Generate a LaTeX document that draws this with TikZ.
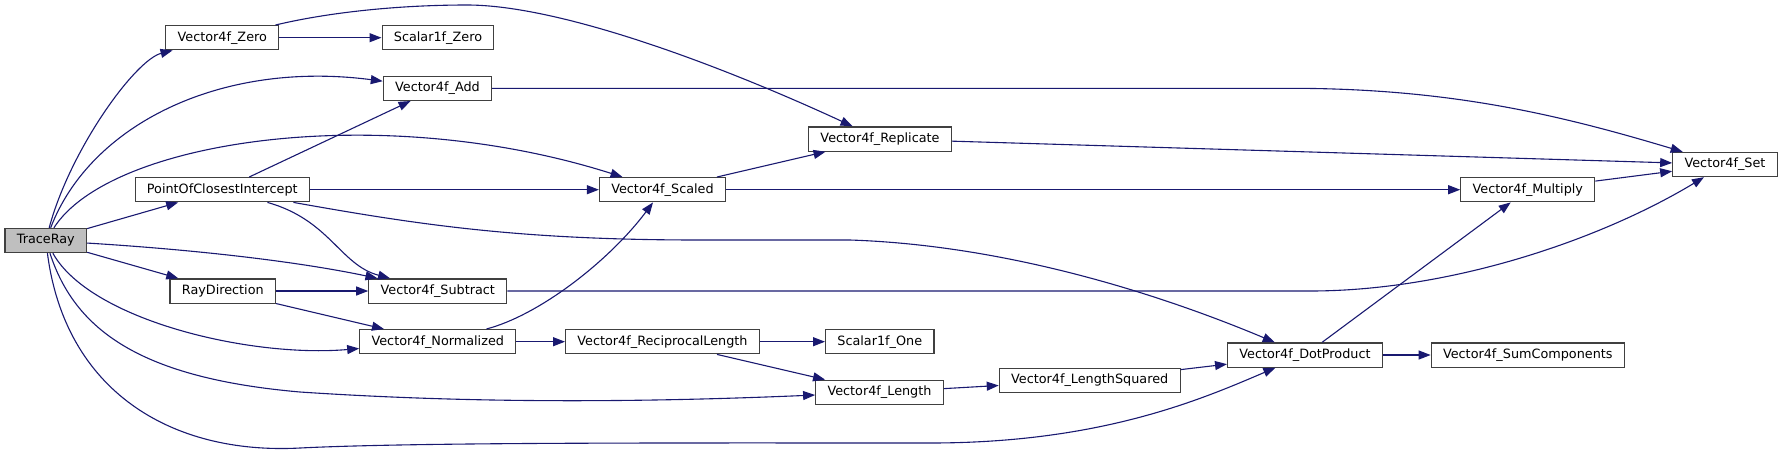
\documentclass[tikz,border=0pt]{standalone}
\usepackage{fontspec}
\setmainfont{DejaVu Sans}
\usetikzlibrary{arrows.meta}
\definecolor{edgeblue}{HTML}{191970}
\definecolor{boxgray}{HTML}{BFBFBF}
\definecolor{boxline}{HTML}{404040}

\begin{document}
\begin{tikzpicture}[x=1pt,y=-1pt,
  fn/.style={draw=boxline,line width=1.2pt,fill=white,inner xsep=11.8pt,inner ysep=0pt,minimum height=24.2pt,font=\fontsize{12.8}{14}\selectfont},
  call/.style={draw=edgeblue,line width=1.1pt,-{Triangle[length=12pt,width=9pt]}}]
\useasboundingbox (0,0) rectangle (1783,456);
\node[fn,fill=boxgray] (trace) at (45.8,240.5) {TraceRay};
\node[fn] (zero) at (222.3,37.7) {Vector4f\_Zero};
\node[fn] (szero) at (438,37.7) {Scalar1f\_Zero};
\node[fn] (add) at (437.5,88.3) {Vector4f\_Add};
\node[fn] (poci) at (222.3,189.7) {PointOfClosestIntercept};
\node[fn] (raydir) at (222.8,291) {RayDirection};
\node[fn] (sub) at (437.8,291) {Vector4f\_Subtract};
\node[fn] (norm) at (437.8,341.7) {Vector4f\_Normalized};
\node[fn] (recip) at (662.5,341.7) {Vector4f\_ReciprocalLength};
\node[fn] (scaled) at (662.5,189.7) {Vector4f\_Scaled};
\node[fn] (repl) at (880,139) {Vector4f\_Replicate};
\node[fn] (sone) at (879.8,341.7) {Scalar1f\_One};
\node[fn] (len) at (879.5,392.3) {Vector4f\_Length};
\node[fn] (lensq) at (1089.7,380.3) {Vector4f\_LengthSquared};
\node[fn] (dot) at (1305,355) {Vector4f\_DotProduct};
\node[fn] (sum) at (1527.8,355) {Vector4f\_SumComponents};
\node[fn] (mult) at (1527.8,189.7) {Vector4f\_Multiply};
\node[fn] (set) at (1725,164.5) {Vector4f\_Set};
\draw[call] (trace) .. controls (70,150) and (135,60) .. (zero);
\draw[call] (trace) .. controls (90,125) and (220,60) .. (add);
\draw[call] (trace) .. controls (110,140) and (380,100) .. (scaled);
\draw[call] (trace) -- (poci);
\draw[call] (trace) .. controls (200,250) and (300,262) .. (sub);
\draw[call] (trace) -- (raydir);
\draw[call] (trace) .. controls (90,320) and (250,358) .. (norm);
\draw[call] (trace) .. controls (75,330) and (140,378) .. (300,392) .. controls (480,404) and (650,402) .. (len);
\draw[call] (trace) .. controls (65,390) and (170,455) .. (300,448) .. controls (420,442) and (700,443) .. (930,443) .. controls (1100,443) and (1200,400) .. (dot);
\draw[call] (zero) -- (szero);
\draw[call] (zero) .. controls (330,12) and (400,5) .. (467,5) .. controls (560,5) and (720,65) .. (repl);
\draw[call] (add) -- (1290,88.3) .. controls (1450,88.3) and (1560,115) .. (set);
\draw[call] (poci) -- (add);
\draw[call] (poci) -- (scaled);
\draw[call] (poci) .. controls (330,220) and (340,265) .. (sub);
\draw[call] (poci) .. controls (420,225) and (520,240) .. (700,240) -- (850,240) .. controls (1000,245) and (1150,290) .. (dot);
\draw[call] (raydir) -- (sub);
\draw[call] (raydir) -- (norm);
\draw[call] (norm) .. controls (540,315) and (610,260) .. (scaled);
\draw[call] (norm) -- (recip);
\draw[call] (sub) -- (1310,291) .. controls (1450,291) and (1600,240) .. (set);
\draw[call] (scaled) -- (repl);
\draw[call] (scaled) -- (mult);
\draw[call] (repl) -- (set);
\draw[call] (mult) -- (set);
\draw[call] (recip) -- (sone);
\draw[call] (recip) -- (len);
\draw[call] (len) -- (lensq);
\draw[call] (lensq) -- (dot);
\draw[call] (dot) -- (mult);
\draw[call] (dot) -- (sum);
\end{tikzpicture}
\end{document}
